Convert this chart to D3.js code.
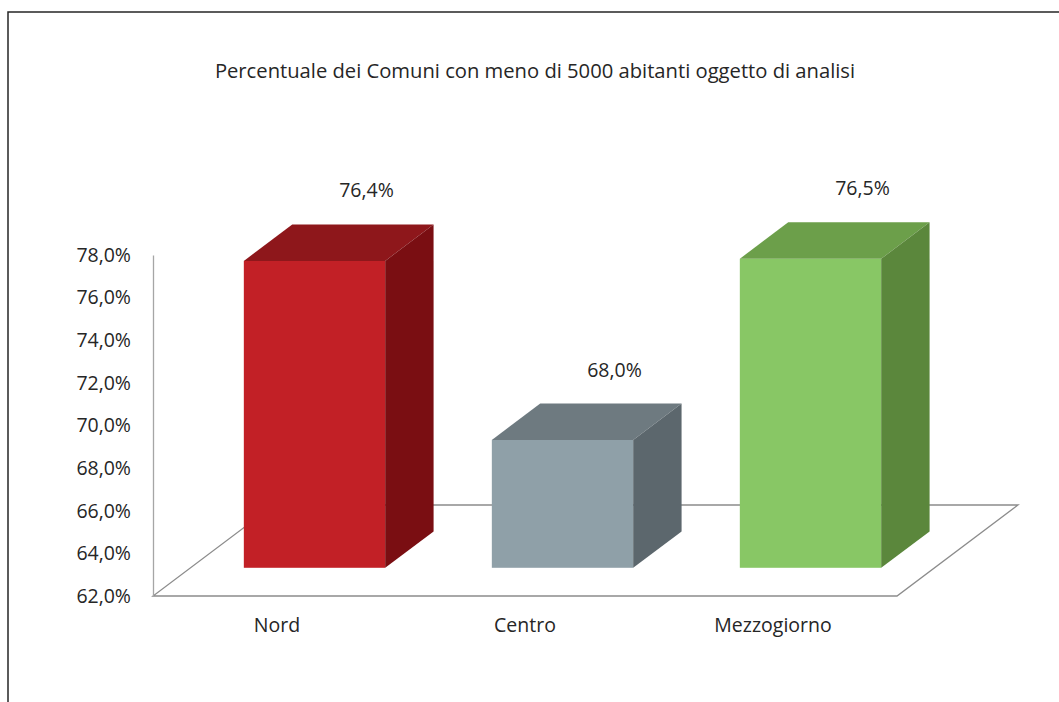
<!DOCTYPE html>
<html>
<head>
<meta charset="utf-8">
<script src="https://cdn.jsdelivr.net/npm/d3@7"></script>
<style>
  body { margin: 0; background: #fff; }
  text { font-family: "Open Sans", sans-serif; fill: #262626; }
</style>
</head>
<body>
<div id="chart"></div>
<script>
// data
var categories = ["Nord", "Centro", "Mezzogiorno"];
var values = [76.4, 68.0, 76.5];
var tickValues = [62, 64, 66, 68, 70, 72, 74, 76, 78];
var frontColors = ["#c22026", "#8fa0a8", "#88c765"];
var topColors = ["#8e171b", "#6e7a80", "#6c9f4a"];
var sideColors = ["#7a0e12", "#5c676d", "#5b873c"];
var title = "Percentuale dei Comuni con meno di 5000 abitanti oggetto di analisi";

var W = 1059, H = 702;
var labelSize = "19.5px";

// 3d floor geometry
var floorLeft = 153, floorRight = 897, floorFront = 596, axisTop = 255;
var depthX = 121, depthY = 91;   // full floor depth
var barFront = 0.31, barBack = 0.71; // bars sit inside the depth

var it = d3.formatLocale({decimal: ",", thousands: ".", grouping: [3], currency: ["", "€"]});
var fmt = function(v) { return it.format(".1f")(v) + "%"; };

var svg = d3.select("#chart")
    .append("svg")
    .attr("width", W)
    .attr("height", H);

// frame
svg.append("path")
    .attr("d", "M8," + H + " L8,12 L" + W + ",12")
    .attr("fill", "none")
    .attr("stroke", "#262626")
    .attr("stroke-width", 1.5);

// title
svg.append("text")
    .attr("x", 535)
    .attr("y", 78)
    .attr("text-anchor", "middle")
    .style("font-size", "20.2px")
    .text(title);

var x = d3.scaleBand()
    .domain(categories)
    .range([floorLeft, floorRight])
    .paddingInner(0.43)
    .paddingOuter(0.215);

var y = d3.scaleLinear()
    .domain([62, 78])
    .range([floorFront, axisTop]);

// floor
svg.append("path")
    .attr("d", "M" + floorLeft + "," + floorFront +
        " L" + floorRight + "," + floorFront +
        " L" + (floorRight + depthX) + "," + (floorFront - depthY) +
        " L" + (floorLeft + depthX) + "," + (floorFront - depthY) + " Z")
    .attr("fill", "none")
    .attr("stroke", "#8c8c8c")
    .attr("stroke-width", 1.3);

// y axis
var yAxis = svg.append("g")
    .attr("transform", "translate(" + floorLeft + ",0)")
    .call(d3.axisLeft(y).tickValues(tickValues).tickSize(0).tickSizeOuter(0).tickPadding(22).tickFormat(fmt));
yAxis.select(".domain").attr("stroke", "#a6a6a6").attr("stroke-width", 1.3);
yAxis.selectAll("text")
    .style("font-size", labelSize)
    .style("font-family", "'Open Sans', sans-serif")
    .attr("fill", "#262626");

// bars
var shiftX = barFront * depthX, shiftY = barFront * depthY;
var ddx = (barBack - barFront) * depthX, ddy = (barBack - barFront) * depthY;
var bw = x.bandwidth();

var bars = svg.selectAll("g.bar")
    .data(categories)
    .enter()
    .append("g")
    .attr("class", "bar");

bars.each(function(d, i) {
    var g = d3.select(this);
    var bx = x(d) + shiftX;
    var yTop = y(values[i]) - shiftY;
    var yBot = y(62) - shiftY;
    g.append("rect")
        .attr("x", bx).attr("y", yTop)
        .attr("width", bw).attr("height", yBot - yTop)
        .attr("fill", frontColors[i]);
    g.append("path")
        .attr("d", "M" + bx + "," + yTop + " L" + (bx + ddx) + "," + (yTop - ddy) +
            " L" + (bx + bw + ddx) + "," + (yTop - ddy) + " L" + (bx + bw) + "," + yTop + " Z")
        .attr("fill", topColors[i]);
    g.append("path")
        .attr("d", "M" + (bx + bw) + "," + yTop + " L" + (bx + bw + ddx) + "," + (yTop - ddy) +
            " L" + (bx + bw + ddx) + "," + (yBot - ddy) + " L" + (bx + bw) + "," + yBot + " Z")
        .attr("fill", sideColors[i]);
    // value label
    g.append("text")
        .attr("x", bx + bw / 2 + 52)
        .attr("y", yTop - ddy - 27)
        .attr("text-anchor", "middle")
        .style("font-size", labelSize)
        .text(fmt(values[i]));
});

// category labels
svg.selectAll("text.cat")
    .data(categories)
    .enter()
    .append("text")
    .attr("class", "cat")
    .attr("x", function(d) { return x(d) + bw / 2; })
    .attr("y", 632)
    .attr("text-anchor", "middle")
    .style("font-size", labelSize)
    .text(function(d) { return d; });
</script>
</body>
</html>
